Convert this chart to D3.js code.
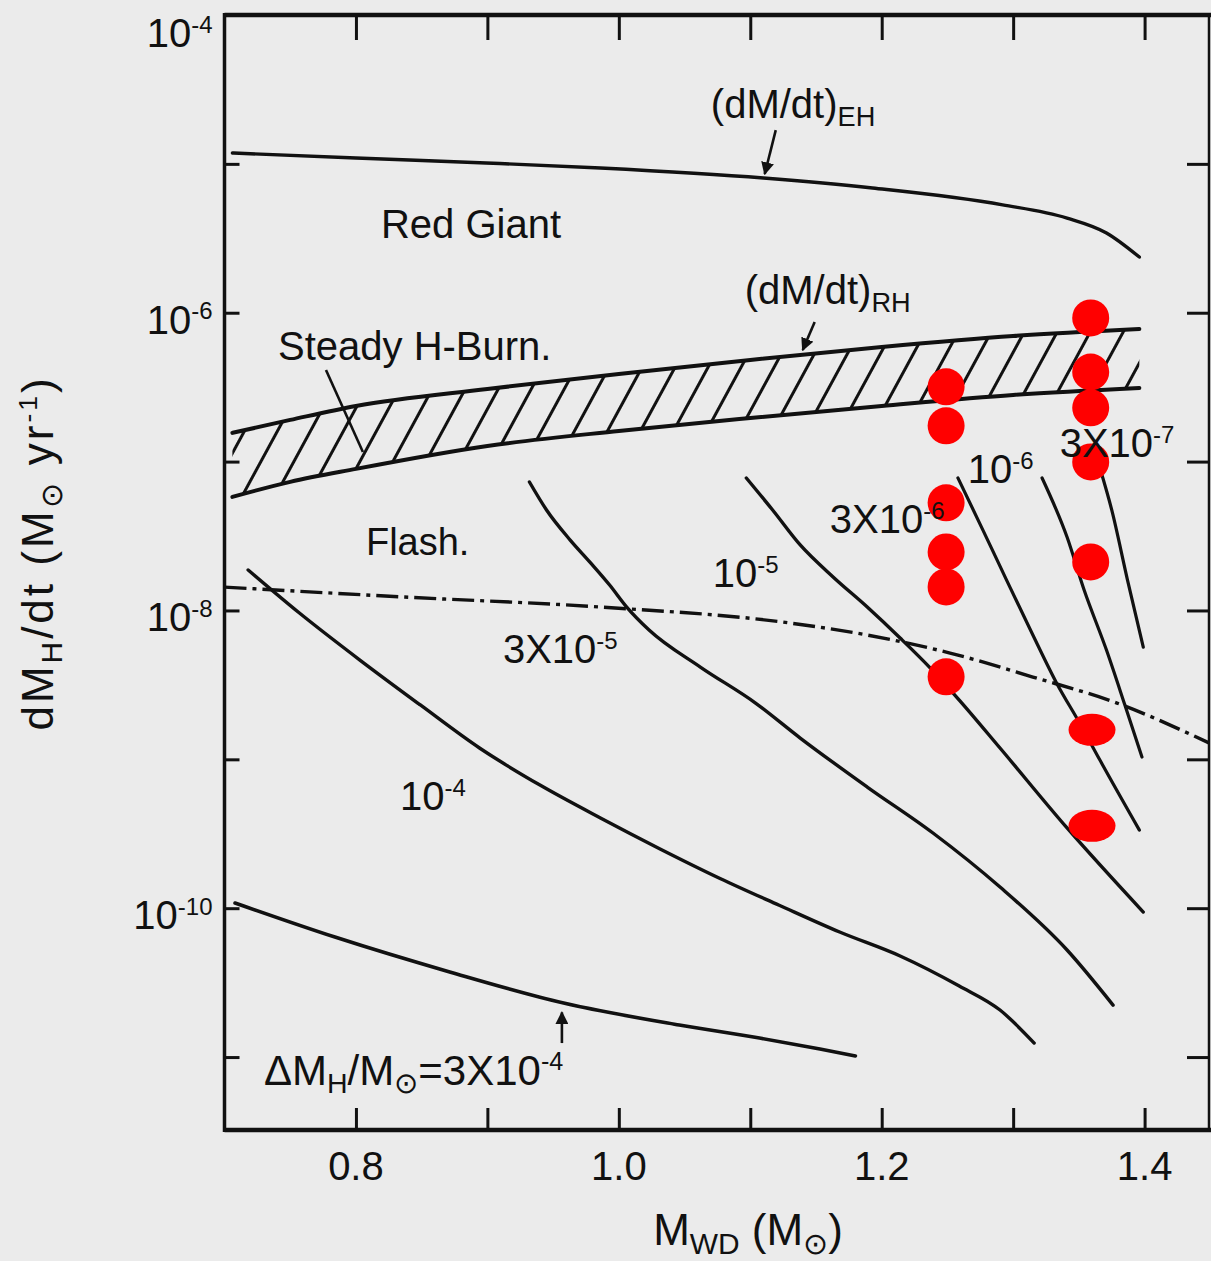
<!DOCTYPE html>
<html lang="en">
<head>
<meta charset="utf-8">
<title>Accretion rate vs white dwarf mass</title>
<script src="https://d3js.org/d3.v7.min.js"></script>
<style>
  body { margin: 0; background: #ebebeb; }
  svg { display: block; }
  text { font-family: "Liberation Sans", Arial, sans-serif; fill: #111; }
</style>
</head>
<body>
<script>
// ---- data: x = M_WD (Msun), y = log10 dM/dt (Msun/yr) ----
var ehX = [0.706, 0.8, 0.899, 0.986, 1.110, 1.193, 1.292, 1.341, 1.371, 1.396];
var ehY = [-4.927, -4.961, -4.994, -5.028, -5.095, -5.162, -5.275, -5.364, -5.464, -5.626];

var bandX     = [0.706, 0.75, 0.8, 0.9, 1.0, 1.1, 1.2, 1.3, 1.396];
var rhUpperY  = [-6.807, -6.720, -6.626, -6.512, -6.411, -6.317, -6.230, -6.156, -6.109];
var rhLowerY  = [-7.237, -7.136, -7.049, -6.895, -6.794, -6.707, -6.626, -6.552, -6.505];

var dashX = [0.700, 0.837, 0.986, 1.130, 1.189, 1.252, 1.315, 1.379, 1.449];
var dashY = [-7.843, -7.910, -7.977, -8.084, -8.165, -8.286, -8.447, -8.622, -8.890];

// constant envelope mass curves (Delta M_H / Msun)
var c3e4X = [0.708, 0.784, 0.872, 0.958, 1.046, 1.107, 1.153, 1.180];
var c3e4Y = [-9.965, -10.194, -10.430, -10.637, -10.785, -10.872, -10.946, -10.993];

var c1e4X = [0.718, 0.757, 0.803, 0.849, 0.894, 0.940, 0.986, 1.031, 1.077, 1.122, 1.168, 1.214, 1.259, 1.290, 1.316];
var c1e4Y = [-7.728, -8.017, -8.333, -8.635, -8.924, -9.173, -9.394, -9.600, -9.800, -9.980, -10.160, -10.321, -10.523, -10.684, -10.906];

var c3e5X = [0.932, 0.945, 0.963, 0.978, 0.993, 1.006, 1.023, 1.062, 1.104, 1.138, 1.189, 1.239, 1.290, 1.341, 1.376];
var c3e5Y = [-7.137, -7.325, -7.527, -7.675, -7.829, -7.977, -8.131, -8.380, -8.622, -8.857, -9.186, -9.495, -9.858, -10.281, -10.651];

var c1e5X = [1.097, 1.117, 1.138, 1.163, 1.189, 1.214, 1.237, 1.259, 1.290, 1.341, 1.399];
var c1e5Y = [-7.110, -7.325, -7.560, -7.775, -7.977, -8.185, -8.387, -8.602, -8.924, -9.461, -10.026];

var c3e6X = [1.258, 1.277, 1.295, 1.315, 1.333, 1.351, 1.366, 1.396];
var c3e6Y = [-7.110, -7.460, -7.796, -8.165, -8.487, -8.763, -9.005, -9.475];

var c1e6X = [1.322, 1.341, 1.354, 1.371, 1.385, 1.398];
var c1e6Y = [-7.110, -7.507, -7.863, -8.266, -8.635, -8.985];

var c3e7X = [1.366, 1.375, 1.387, 1.399];
var c3e7Y = [-7.043, -7.325, -7.796, -8.246];

// red markers
var dotsAX = [1.249, 1.249, 1.249, 1.249, 1.249, 1.249];
var dotsAY = [-6.498, -6.760, -7.277, -7.607, -7.842, -8.446];
var dotsBX = [1.359, 1.359, 1.359, 1.359, 1.359];
var dotsBY = [-6.035, -6.398, -6.639, -7.002, -7.674];
var ovalsX = [1.360, 1.360];
var ovalsY = [-8.802, -9.447];

var massTicks = [0.8, 0.9, 1.0, 1.1, 1.2, 1.3, 1.4];
var massLabels = [0.8, 1.0, 1.2, 1.4];
var rateTicks = [-5, -6, -7, -8, -9, -10, -11];
var rateLabels = [-4, -6, -8, -10];

// ---- layout ----
var width = 1211, height = 1261;
var padL = 224.5, padR = 1209, padT = 15, padB = 1130;

var svg = d3.select("body").append("svg")
    .attr("width", width)
    .attr("height", height);

svg.append("rect").attr("width", width).attr("height", height).attr("fill", "#ebebeb");

var x = d3.scaleLinear().domain([0.7, 1.449]).range([padL, padR]);
var y = d3.scaleLog().domain([1e-4, Math.pow(10, -11.49)]).range([padT, padB]);
function ly(v) { return y(Math.pow(10, v)); }

var line = d3.line()
    .x(function (d) { return x(d[0]); })
    .y(function (d) { return ly(d[1]); })
    .curve(d3.curveMonotoneX);

var defs = svg.append("defs");
var hatch = defs.append("pattern")
    .attr("id", "hatch")
    .attr("patternUnits", "userSpaceOnUse")
    .attr("width", 29).attr("height", 29)
    .attr("patternTransform", "rotate(28.5)");
hatch.append("line")
    .attr("x1", 14.5).attr("y1", -2).attr("x2", 14.5).attr("y2", 31)
    .attr("stroke", "#111").attr("stroke-width", 3);

defs.append("marker")
    .attr("id", "head")
    .attr("viewBox", "0 0 10 10")
    .attr("refX", 9).attr("refY", 5)
    .attr("markerWidth", 5).attr("markerHeight", 5)
    .attr("markerUnits", "strokeWidth")
    .attr("orient", "auto")
  .append("path")
    .attr("d", "M0,0 L10,5 L0,10 Z")
    .attr("fill", "#111");

// ---- steady burning band ----
var band = d3.zip(bandX, rhLowerY, rhUpperY);
svg.append("path")
    .datum(band)
    .attr("fill", "url(#hatch)")
    .attr("d", d3.area()
        .x(function (d) { return x(d[0]); })
        .y0(function (d) { return ly(d[1]); })
        .y1(function (d) { return ly(d[2]); })
        .curve(d3.curveMonotoneX));

function drawLine(xs, ys, w, dash) {
    svg.append("path")
        .datum(d3.zip(xs, ys))
        .attr("fill", "none")
        .attr("stroke", "#111")
        .attr("stroke-width", w)
        .attr("stroke-linecap", "round")
        .attr("stroke-dasharray", dash || null)
        .attr("d", line);
}

drawLine(bandX, rhUpperY, 4);
drawLine(bandX, rhLowerY, 4);
drawLine(ehX, ehY, 3.4);
drawLine(c3e4X, c3e4Y, 3.6);
drawLine(c1e4X, c1e4Y, 3.4);
drawLine(c3e5X, c3e5Y, 3.4);
drawLine(c1e5X, c1e5Y, 3.4);
drawLine(c3e6X, c3e6Y, 3.2);
drawLine(c1e6X, c1e6Y, 3.2);
drawLine(c3e7X, c3e7Y, 3.2);
svg.append("path")
    .datum(d3.zip(dashX, dashY))
    .attr("fill", "none")
    .attr("stroke", "#111")
    .attr("stroke-width", 3.4)
    .attr("stroke-dasharray", "22,6,4,6")
    .attr("d", line);

// ---- pointers ----
function pointer(x1, y1, x2, y2, arrow) {
    svg.append("line")
        .attr("x1", x(x1)).attr("y1", ly(y1))
        .attr("x2", x(x2)).attr("y2", ly(y2))
        .attr("stroke", "#111").attr("stroke-width", 2.6)
        .attr("marker-end", arrow ? "url(#head)" : null);
}
pointer(1.1194, -4.773, 1.1110, -5.068, true);
pointer(1.1490, -6.062, 1.1399, -6.250, true);
pointer(0.7772, -6.385, 0.8053, -6.936, false);
pointer(0.9567, -10.906, 0.9567, -10.700, true);

// ---- frame and ticks ----
function styleAxis(g) {
    g.select(".domain").remove();
    g.selectAll(".tick line").attr("stroke", "#111").attr("stroke-width", 3);
}
svg.append("g").attr("transform", "translate(0," + padB + ")")
    .call(d3.axisBottom(x).tickValues(massTicks).tickSizeInner(-22).tickSizeOuter(0).tickFormat(""))
    .call(styleAxis);
svg.append("g").attr("transform", "translate(0," + padT + ")")
    .call(d3.axisTop(x).tickValues(massTicks).tickSizeInner(-25).tickSizeOuter(0).tickFormat(""))
    .call(styleAxis);
var decades = rateTicks.map(function (v) { return Math.pow(10, v); });
svg.append("g").attr("transform", "translate(" + padL + ",0)")
    .call(d3.axisLeft(y).tickValues(decades).tickSizeInner(-15).tickSizeOuter(0).tickFormat(""))
    .call(styleAxis);
svg.append("g").attr("transform", "translate(" + padR + ",0)")
    .call(d3.axisRight(y).tickValues(decades).tickSizeInner(-22).tickSizeOuter(0).tickFormat(""))
    .call(styleAxis);

svg.append("line").attr("x1", padL).attr("x2", width).attr("y1", padT).attr("y2", padT)
    .attr("stroke", "#111").attr("stroke-width", 4.5);
svg.append("line").attr("x1", padL).attr("x2", width).attr("y1", padB).attr("y2", padB)
    .attr("stroke", "#111").attr("stroke-width", 4.5);
svg.append("line").attr("x1", padL).attr("x2", padL).attr("y1", padT - 2).attr("y2", padB + 2)
    .attr("stroke", "#111").attr("stroke-width", 3.5);
svg.append("line").attr("x1", padR).attr("x2", padR).attr("y1", padT).attr("y2", padB)
    .attr("stroke", "#111").attr("stroke-width", 2.5);

// ---- red markers ----
svg.selectAll(".dotA").data(d3.zip(dotsAX, dotsAY)).enter().append("circle")
    .attr("cx", function (d) { return x(d[0]); })
    .attr("cy", function (d) { return ly(d[1]); })
    .attr("r", 18.5).attr("fill", "#ff0000");
svg.selectAll(".dotB").data(d3.zip(dotsBX, dotsBY)).enter().append("circle")
    .attr("cx", function (d) { return x(d[0]); })
    .attr("cy", function (d) { return ly(d[1]); })
    .attr("r", 18.5).attr("fill", "#ff0000");
svg.selectAll(".oval").data(d3.zip(ovalsX, ovalsY)).enter().append("ellipse")
    .attr("cx", function (d) { return x(d[0]); })
    .attr("cy", function (d) { return ly(d[1]); })
    .attr("rx", 23.5).attr("ry", 16).attr("fill", "#ff0000");

// ---- text ----
// parts: [text, "sub"|"sup"|undefined]
function rich(t, parts, size) {
    var shift = 0;
    parts.forEach(function (p) {
        var s = p[1] === "sub" ? 0.2 * size : p[1] === "sup" ? -0.36 * size : 0;
        t.append("tspan")
            .attr("dy", s - shift)
            .attr("font-size", p[1] === "sub" ? size * 0.68 : p[1] ? size * 0.6 : size)
            .text(p[0]);
        shift = s;
    });
    return t;
}
function label(xv, yv, parts, size) {
    var t = svg.append("text").attr("x", x(xv)).attr("y", ly(yv)).attr("font-size", size);
    return rich(t, parts, size);
}

label(1.0700, -4.692, [["(dM/dt)"], ["EH", "sub"]], 40);
label(0.8190, -5.498, [["Red  Giant"]], 40);
label(1.0958, -5.941, [["(dM/dt)"], ["RH", "sub"]], 40);
label(0.7407, -6.318, [["Steady  H-Burn."]], 40);
label(0.8076, -7.628, [["Flash."]], 38);
label(0.9118, -8.353, [["3X10"], ["-5", "sup"]], 40);
label(0.8335, -9.341, [["10"], ["-4", "sup"]], 40);
label(1.0715, -7.843, [["10"], ["-5", "sup"]], 40);
label(1.1605, -7.480, [["3X10"], ["-6", "sup"]], 40);
label(1.2654, -7.144, [["10"], ["-6", "sup"]], 40);
label(1.3354, -6.969, [["3X10"], ["-7", "sup"]], 40);
label(0.7300, -11.188, [["\u0394M"], ["H", "sub"], ["/M"], ["\u2299", "sub"], ["=3X10"], ["-4", "sup"]], 42);

// tick labels
svg.selectAll(".xlab").data(massLabels).enter().append("text")
    .attr("x", function (d) { return x(d); })
    .attr("y", padB + 50)
    .attr("text-anchor", "middle")
    .attr("font-size", 40)
    .text(function (d) { return d.toFixed(1); });

rateLabels.forEach(function (v) {
    var t = svg.append("text")
        .attr("x", padL - 12)
        .attr("y", Math.max(ly(v) + 21, padT + 32))
        .attr("text-anchor", "end")
        .attr("font-size", 40);
    rich(t, [["10"], ["-" + (-v), "sup"]], 40);
});

// axis titles
var xt = svg.append("text")
    .attr("x", 748).attr("y", 1245)
    .attr("text-anchor", "middle")
    .attr("font-size", 44);
rich(xt, [["M"], ["WD", "sub"], [" (M"], ["\u2299", "sub"], [")"]], 44);

var yt = svg.append("text")
    .attr("transform", "translate(53,553) rotate(-90)")
    .attr("text-anchor", "middle")
    .attr("font-size", 44)
    .attr("letter-spacing", 3);
rich(yt, [["dM"], ["H", "sub"], ["/dt  (M"], ["\u2299", "sub"], [" yr"], ["-1", "sup"], [")"]], 44);
</script>
</body>
</html>
